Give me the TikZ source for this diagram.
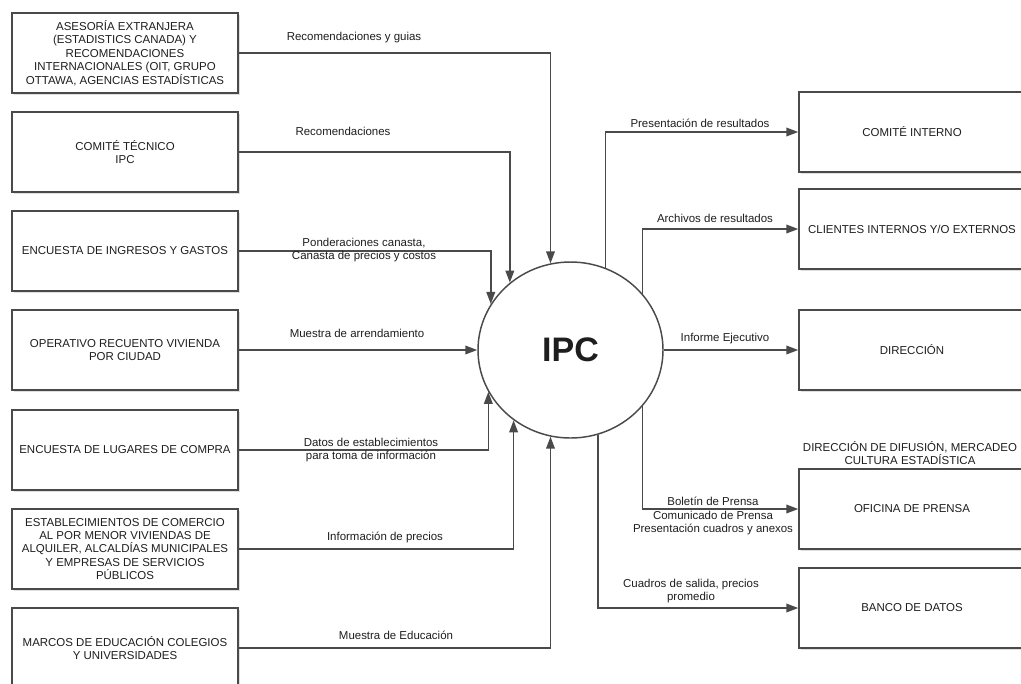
\documentclass[tikz,border=0pt]{standalone}
\usepackage{fontspec}
\setmainfont{Liberation Sans}
\usetikzlibrary{arrows.meta,shapes.geometric,shadows}

\definecolor{linec}{HTML}{4A4A4A}
\definecolor{textc}{HTML}{1E1E1E}
\newcommand\smallfont{\fontsize{8.6pt}{10.1pt}\selectfont}

\begin{document}
\begin{tikzpicture}[x=0.75pt,y=-0.75pt,
  every node/.style={text=textc},
  box/.style={draw=linec, line width=1.1pt, fill=white,
    minimum width=169.5pt, minimum height=60pt, inner sep=0pt,
    align=center, font=\smallfont,
    drop shadow={shadow xshift=1.2pt, shadow yshift=-1.2pt, opacity=0.25}},
  flow/.style={draw=linec, line width=1.1pt,
    -{Triangle[length=9pt,width=6.5pt]}},
  lbl/.style={font=\smallfont, inner sep=0pt, align=center}]

\useasboundingbox (0,0) rectangle (1021,683);
\clip (0,0) rectangle (1021,683);

% central process
\node[ellipse, draw=linec, line width=1.1pt, fill=white,
  minimum width=138.75pt, minimum height=132pt, inner sep=0pt,
  font=\fontsize{25.5pt}{28pt}\selectfont\bfseries] (ipc) at (570.5,350) {IPC};

% sources on the left
\node[box] (b1) at (125,53) {ASESORÍA EXTRANJERA\\(ESTADISTICS CANADA) Y\\RECOMENDACIONES\\INTERNACIONALES (OIT, GRUPO\\OTTAWA, AGENCIAS ESTADÍSTICAS};
\node[box] (b2) at (125,152) {COMITÉ TÉCNICO\\IPC};
\node[box] (b3) at (125,251) {ENCUESTA DE INGRESOS Y GASTOS};
\node[box] (b4) at (125,350) {OPERATIVO RECUENTO VIVIENDA\\POR CIUDAD};
\node[box] (b5) at (125,450) {ENCUESTA DE LUGARES DE COMPRA};
\node[box] (b6) at (125,549) {ESTABLECIMIENTOS DE COMERCIO\\AL POR MENOR VIVIENDAS DE\\ALQUILER, ALCALDÍAS MUNICIPALES\\Y EMPRESAS DE SERVICIOS\\PÚBLICOS};
\node[box] (b7) at (125,648) {MARCOS DE EDUCACIÓN COLEGIOS\\Y UNIVERSIDADES};

% destinations on the right
\node[box] (r1) at (912,132) {COMITÉ INTERNO};
\node[box] (r2) at (912,229) {CLIENTES INTERNOS Y/O EXTERNOS};
\node[box] (r3) at (912,350) {DIRECCIÓN};
\node[box] (r4) at (912,509) {OFICINA DE PRENSA};
\node[box] (r5) at (912,608) {BANCO DE DATOS};
\node[lbl] (r4t) at (910,453) {DIRECCIÓN DE DIFUSIÓN, MERCADEO\\CULTURA ESTADÍSTICA};

% inputs
\draw[flow] (b1.east) -| (ipc.103.4);
\draw[flow] (b2.east) -| (ipc.132.3);
\draw[flow] (b3.east) -| (ipc.150.5);
\draw[flow] (b4.east) -- (ipc.west);
\draw[flow] (b5.east) -| (ipc.207);
\draw[flow] (b6.east) -| (ipc.231);
\draw[flow] (b7.east) -| (ipc.257.9);

\node[lbl] (l1) at (354,38) {Recomendaciones y guias};
\node[lbl] (l2) at (343,131) {Recomendaciones};
\node[lbl] (l3) at (364,250) {Ponderaciones canasta,\\Canasta de precios y costos};
\node[lbl] (l4) at (357,333) {Muestra de arrendamiento};
\node[lbl] (l5) at (371,450) {Datos de establecimientos\\para toma de información};
\node[lbl] (l6) at (385,537) {Información de precios};
\node[lbl] (l7) at (396,635) {Muestra de Educación};

% outputs
\draw[flow] (ipc.67.8) |- (r1.west);
\draw[flow] (ipc.38) |- (r2.west);
\draw[flow] (ipc.east) -- (r3.west);
\draw[flow] (ipc.322) |- (r4.west);
\draw[flow] (ipc.288.1) |- (r5.west);

\node[lbl] (o1) at (700,123) {Presentación de resultados};
\node[lbl] (o2) at (715,218) {Archivos de resultados};
\node[lbl] (o3) at (725,339) {Informe Ejecutivo};
\node[lbl] (o4) at (713,516) {Boletín de Prensa\\Comunicado de Prensa\\Presentación cuadros y anexos};
\node[lbl] (o5) at (691,591) {Cuadros de salida, precios\\promedio};
\end{tikzpicture}
\end{document}
